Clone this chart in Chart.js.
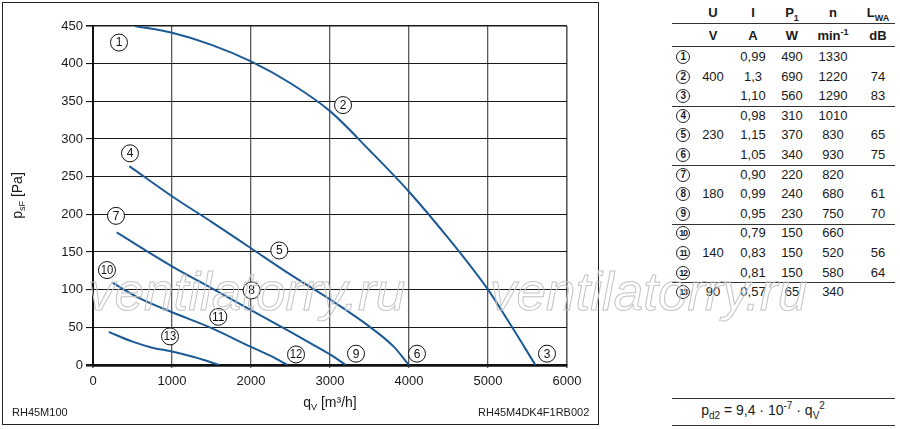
<!DOCTYPE html>
<html>
<head>
<meta charset="utf-8">
<script src="https://cdn.jsdelivr.net/npm/chart.js@4.4.1/dist/chart.umd.min.js"></script>
<style>
  html, body { margin:0; padding:0; background:#fff; }
  body { width:900px; height:429px; position:relative; overflow:hidden; font-family:"Liberation Sans", Arial, Helvetica, sans-serif; color:#1a1a1a; }
  #chartBox { position:absolute; left:0; top:0; width:600px; height:429px; }
  #frame { position:absolute; left:2px; top:2px; width:595px; height:421px; border:1px solid #222; pointer-events:none; }
  .note { position:absolute; font-size:11px; line-height:11px; color:#1a1a1a; }
  .cell { position:absolute; font-size:13px; line-height:16px; text-align:center; width:60px; margin-left:-30px; white-space:nowrap; }
  .hdr { font-weight:bold; }
  .hline { position:absolute; height:0; border-top:1px solid #333; }
  .circ { position:absolute; width:12px; height:12px; margin-left:-7px; border:1.1px solid #222; border-radius:50%; font-size:10px; line-height:12px; font-weight:bold; text-align:center; letter-spacing:-0.6px; }
  .wm { position:absolute; font-size:53px; line-height:53px; font-style:italic; color:transparent; -webkit-text-stroke:1px #c4c4c4; white-space:nowrap; pointer-events:none; }
  sub, sup { font-size:9px; line-height:0; }
  .formula { font-size:14px; }
  .formula sub, .formula sup { font-size:10px; }
</style>
</head>
<body>
<div id="chartBox"><canvas id="c"></canvas></div>
<div id="frame"></div>
<div class="note" style="left:12px; top:407px;">RH45M100</div>
<div class="note" style="left:478px; top:407px;">RH45M4DK4F1RB002</div>
<div id="table"></div>
<div class="wm" style="left:88px; top:265px;">ventilatorry.ru</div>
<div class="wm" style="left:490px; top:265px;">ventilatorry.ru</div>

<script>
// ---------- data ----------
// curve 1-2-3 (400 V)
const q400 = [530, 1000, 1500, 2000, 2500, 3000, 3500, 4000, 4500, 5000, 5300, 5600];
const p400 = [450, 441, 425, 403, 374, 337, 285, 230, 168, 100, 51, 0];
// curve 4-5-6 (230 V)
const q230 = [460, 1000, 1500, 2000, 2500, 3000, 3500, 3800, 4000];
const p230 = [264, 224, 190, 155, 120, 87, 51, 25, 0];
// curve 7-8-9 (180 V)
const q180 = [300, 1000, 1500, 2000, 2500, 2800, 3000, 3200];
const p180 = [176, 131, 102, 73, 44, 26, 14, 0];
// curve 10-11-12 (140 V)
const q140 = [250, 600, 1000, 1500, 2000, 2250, 2460];
const p140 = [109, 88, 70, 49, 24, 12, 0];
// curve 13 (90 V)
const q90 = [200, 500, 750, 1000, 1300, 1600];
const p90 = [44, 31, 23, 18, 10, 0];

// circled curve markers (anchor in data units)
const markerText = ['1','2','3','4','5','6','7','8','9','10','11','12','13'];
const markerQ = [329, 3165, 5747, 468, 2358, 4101, 291, 2008, 3329, 177, 1586, 2570, 975];
const markerP = [428, 345, 15, 281, 152, 15, 198, 99, 15, 126, 64, 14, 38];

// axis ticks
const xTicks = [0, 1000, 2000, 3000, 4000, 5000, 6000];
const yTicks = [0, 50, 100, 150, 200, 250, 300, 350, 400, 450];

// table values
const rowNo  = ['1','2','3','4','5','6','7','8','9','10','11','12','13'];
const colU   = ['', '400', '', '', '230', '', '', '180', '', '', '140', '', '90'];
const colI   = ['0,99','1,3','1,10','0,98','1,15','1,05','0,90','0,99','0,95','0,79','0,83','0,81','0,57'];
const colP1  = ['490','690','560','310','370','340','220','240','230','150','150','150','65'];
const colN   = ['1330','1220','1290','1010','830','930','820','680','750','660','520','580','340'];
const colLWA = ['', '74','83','','65','75','','61','70','','56','64',''];

// ---------- table ----------
(function buildTable(){
  const t = document.getElementById('table');
  const colX = [683, 713, 753, 792, 833, 878];
  const add = (html, x, yc, cls) => {
    const d = document.createElement('div');
    d.className = cls || 'cell';
    d.innerHTML = html;
    d.style.left = x + 'px';
    d.style.top = (yc - 8) + 'px';
    t.appendChild(d);
    return d;
  };
  const hline = (y) => {
    const d = document.createElement('div');
    d.className = 'hline';
    d.style.left = '672px'; d.style.width = '223px'; d.style.top = y + 'px';
    t.appendChild(d);
  };
  add('U', colX[1], 13, 'cell hdr');
  add('I', colX[2], 13, 'cell hdr');
  add('P<sub>1</sub>', colX[3], 13, 'cell hdr');
  add('n', colX[4], 13, 'cell hdr');
  add('L<sub>WA</sub>', colX[5], 13, 'cell hdr');
  hline(23);
  add('V', colX[1], 36, 'cell hdr');
  add('A', colX[2], 36, 'cell hdr');
  add('W', colX[3], 36, 'cell hdr');
  add('min<sup>-1</sup>', colX[4], 36, 'cell hdr');
  add('dB', colX[5], 36, 'cell hdr');
  hline(46);
  for (let i = 0; i < rowNo.length; i++) {
    const yc = 57 + 19.6 * i;
    const c = document.createElement('div');
    c.className = 'circ';
    c.textContent = rowNo[i];
    c.style.left = colX[0] + 'px';
    c.style.top = (yc - 7) + 'px';
    if (rowNo[i].length > 1) { c.style.fontSize = '9px'; c.style.letterSpacing = '-1.2px'; }
    t.appendChild(c);
    add(colU[i], colX[1], yc);
    add(colI[i], colX[2], yc);
    add(colP1[i], colX[3], yc);
    add(colN[i], colX[4], yc);
    add(colLWA[i], colX[5], yc);
    if (i === 2 || i === 5 || i === 8 || i === 11) hline(yc + 9.8);
  }
  hline(398);
  const f = add('p<sub>d2</sub> = 9,4 · 10<sup>-7</sup> · q<sub>V</sub><sup>2</sup>', 763, 410, 'cell formula');
  f.style.width = '180px'; f.style.marginLeft = '-90px';
  hline(425);
})();

// ---------- chart ----------
const FONT = '"Liberation Sans", Arial, Helvetica, sans-serif';
const blue = '#1c5a96';
const toPts = (qs, ps) => qs.map((q, i) => ({x: q, y: ps[i]}));
const mk = (qs, ps) => ({
  data: toPts(qs, ps), borderColor: blue, borderWidth: 2, pointRadius: 0,
  fill: false, tension: 0.4, cubicInterpolationMode: 'monotone'
});

const markerPlugin = {
  id: 'markers',
  afterDatasetsDraw(chart) {
    const {ctx, scales: {x, y}} = chart;
    ctx.save();
    markerText.forEach((t, i) => {
      const px = x.getPixelForValue(markerQ[i]);
      const py = y.getPixelForValue(markerP[i]);
      ctx.beginPath();
      ctx.arc(px, py, 8.5, 0, Math.PI * 2);
      ctx.fillStyle = '#fff'; ctx.fill();
      ctx.lineWidth = 1; ctx.strokeStyle = '#111'; ctx.stroke();
      ctx.fillStyle = '#111';
      ctx.textAlign = 'center'; ctx.textBaseline = 'middle';
      ctx.font = '12px ' + FONT;
      if (t.length > 1) ctx.fillText(t, px, py + 0.5, 12.5);
      else ctx.fillText(t, px, py + 0.5);
    });
    ctx.restore();
  },
  afterDraw(chart) {
    const {ctx, chartArea: a} = chart;
    ctx.save();
    ctx.fillStyle = '#1a1a1a';
    ctx.textBaseline = 'alphabetic';
    ctx.textAlign = 'left';
    // y title: p_sF [Pa]
    const big = '14px ' + FONT, small = '9px ' + FONT;
    ctx.font = big; const w1 = ctx.measureText('p').width;
    ctx.font = small; const w2 = ctx.measureText('sF').width;
    ctx.font = big; const w3 = ctx.measureText(' [Pa]').width;
    const tot = w1 + w2 + w3;
    ctx.translate(22, (a.top + a.bottom) / 2 + tot / 2);
    ctx.rotate(-Math.PI / 2);
    ctx.font = big; ctx.fillText('p', 0, 0);
    ctx.font = small; ctx.fillText('sF', w1, 3);
    ctx.font = big; ctx.fillText(' [Pa]', w1 + w2, 0);
    ctx.restore();
    // x title: q_V [m³/h]
    ctx.save();
    ctx.fillStyle = '#1a1a1a';
    ctx.textBaseline = 'alphabetic';
    ctx.textAlign = 'left';
    ctx.font = big; const v1 = ctx.measureText('q').width;
    ctx.font = small; const v2 = ctx.measureText('V').width;
    ctx.font = big; const v3 = ctx.measureText(' [m³/h]').width;
    const xs = (a.left + a.right) / 2 - (v1 + v2 + v3) / 2;
    const yb = 407;
    ctx.font = big; ctx.fillText('q', xs, yb);
    ctx.font = small; ctx.fillText('V', xs + v1, yb + 3);
    ctx.font = big; ctx.fillText(' [m³/h]', xs + v1 + v2, yb);
    ctx.restore();
  }
};

new Chart(document.getElementById('c'), {
  type: 'line',
  data: {
    datasets: [mk(q400, p400), mk(q230, p230), mk(q180, p180), mk(q140, p140), mk(q90, p90)]
  },
  options: {
    responsive: true,
    maintainAspectRatio: false,
    animation: false,
    layout: { padding: { left: 0, top: 26, right: 33, bottom: 0 } },
    plugins: { legend: { display: false }, tooltip: { enabled: false } },
    scales: {
      x: {
        type: 'linear', min: xTicks[0], max: xTicks[xTicks.length - 1],
        afterBuildTicks: s => { s.ticks = xTicks.map(v => ({value: v})); },
        afterFit: s => { s.height = 64; },
        ticks: { font: { family: FONT, size: 13 }, color: '#1a1a1a', padding: 6, maxRotation: 0,
                 callback: v => String(v) },
        grid: {
          color: '#5a5a5a',
          lineWidth: c => (c.tick && (c.tick.value === 0 || c.tick.value === 6000)) ? 1.6 : 1.3,
          tickLength: 3
        },
        border: { display: true, color: '#111', width: 2.5 }
      },
      y: {
        type: 'linear', min: yTicks[0], max: yTicks[yTicks.length - 1],
        afterBuildTicks: s => { s.ticks = yTicks.map(v => ({value: v})); },
        afterFit: s => { s.width = 93; },
        ticks: { font: { family: FONT, size: 13 }, color: '#1a1a1a', padding: 3,
                 callback: v => String(v) },
        grid: {
          color: '#1a1a1a',
          lineWidth: c => (c.tick && c.tick.value === 0) ? 2.5 : (c.tick && c.tick.value === 450 ? 1.6 : 1.1),
          tickLength: 7
        },
        border: { display: true, color: '#111', width: 2 }
      }
    }
  },
  plugins: [markerPlugin]
});
</script>
</body>
</html>
